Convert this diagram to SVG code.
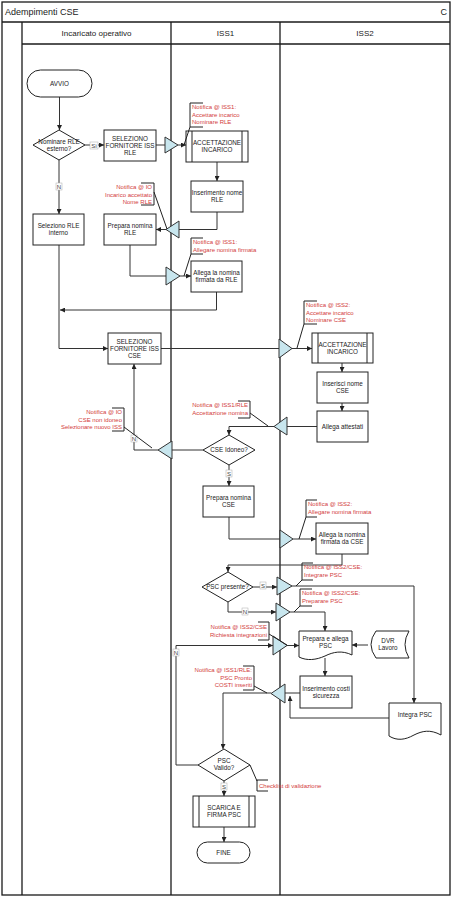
<svg xmlns="http://www.w3.org/2000/svg" width="452" height="897" viewBox="0 0 452 897">
<defs>
<style>
.fr{fill:none;stroke:#1a1a1a;stroke-width:1.3}
.box{fill:#fff;stroke:#222;stroke-width:1}
.tri{fill:#c8e6ee;stroke:#333;stroke-width:1}
.t{font-family:"Liberation Sans",Arial,sans-serif;font-size:6.3px;fill:#222;text-anchor:middle}
.h{font-family:"Liberation Sans",Arial,sans-serif;font-size:8px;fill:#222;text-anchor:middle}
.n{font-family:"Liberation Sans",Arial,sans-serif;font-size:6px;fill:#d23c3c}
.ne{font-family:"Liberation Sans",Arial,sans-serif;font-size:6px;fill:#d23c3c;text-anchor:end}
.c{fill:none;stroke:#333;stroke-width:1}
.br{fill:none;stroke:#222;stroke-width:1}
.lb{fill:#fff;stroke:#aaa;stroke-width:0.5}
.lt{font-family:"Liberation Sans",Arial,sans-serif;font-size:6px;fill:#444;text-anchor:middle}
</style>
<marker id="a" viewBox="0 0 6 6" refX="6" refY="3" markerWidth="5" markerHeight="5" orient="auto"><path d="M0,0 L6,3 L0,6 Z" fill="#222"/></marker>
</defs>
<rect width="452" height="897" fill="#fff"/>
<g id="frame">
<rect class="fr" x="2" y="2" width="448" height="893"/>
<line class="fr" x1="2" y1="22" x2="450" y2="22"/>
<line class="fr" x1="22" y1="44" x2="450" y2="44"/>
<line class="fr" x1="22" y1="22" x2="22" y2="895"/>
<line class="fr" x1="171" y1="22" x2="171" y2="895"/>
<line class="fr" x1="280" y1="22" x2="280" y2="895"/>
<text x="5" y="15" font-family="Liberation Sans,Arial,sans-serif" font-size="9" fill="#222">Adempimenti CSE</text>
<text x="447" y="15" font-family="Liberation Sans,Arial,sans-serif" font-size="9" fill="#222" text-anchor="end">C</text>
<text class="h" x="96.5" y="36">Incaricato operativo</text>
<text class="h" x="225.5" y="36">ISS1</text>
<text class="h" x="365" y="36">ISS2</text>
</g>
<g id="connectors">
<path class="c" d="M59.5,97 V130" marker-end="url(#a)"/>
<path class="c" d="M85,145 H104" marker-end="url(#a)"/>
<path class="c" d="M156,145 H165"/>
<path class="c" d="M178,145 H186" marker-end="url(#a)"/>
<path class="c" d="M217,162 V181" marker-end="url(#a)"/>
<path class="c" d="M217,212 V229.5 H179"/>
<path class="c" d="M166,229.5 H156" marker-end="url(#a)"/>
<path class="c" d="M59,160 V214" marker-end="url(#a)"/>
<path class="c" d="M130,245 V276 H166"/>
<path class="c" d="M180,276 H191" marker-end="url(#a)"/>
<path class="c" d="M216.5,292 V310 H60" marker-end="url(#a)"/>
<path class="c" d="M59,245 V348.5 H108" marker-end="url(#a)"/>
<path class="c" d="M161,348.5 H279"/>
<path class="c" d="M292,348.5 H312" marker-end="url(#a)"/>
<path class="c" d="M342,363 V372" marker-end="url(#a)"/>
<path class="c" d="M342,403 V411" marker-end="url(#a)"/>
<path class="c" d="M317,426.5 H287"/>
<path class="c" d="M274,426.5 H229 V435" marker-end="url(#a)"/>
<path class="c" d="M203,450 H172"/>
<path class="c" d="M158,450 H134 V364" marker-end="url(#a)"/>
<path class="c" d="M229,465 V486" marker-end="url(#a)"/>
<path class="c" d="M229,517 V539 H280"/>
<path class="c" d="M293,539 H316" marker-end="url(#a)"/>
<path class="c" d="M342,554 V565 H228 V572" marker-end="url(#a)"/>
<path class="c" d="M253,587 H277" marker-end="url(#a)"/>
<path class="c" d="M292,586 H414 V703" marker-end="url(#a)"/>
<path class="c" d="M228,602 V612 H276" marker-end="url(#a)"/>
<path class="c" d="M290,612 H325 V631" marker-end="url(#a)"/>
<path class="c" d="M368,645 H352" marker-end="url(#a)"/>
<path class="c" d="M287,645.5 H299" marker-end="url(#a)"/>
<path class="c" d="M325,658 V676" marker-end="url(#a)"/>
<path class="c" d="M300,693 H285"/>
<path class="c" d="M271,693 H223 V749" marker-end="url(#a)"/>
<path class="c" d="M389,718 H290 V696" marker-end="url(#a)"/>
<path class="c" d="M198,765 H176 V645.5 H273" marker-end="url(#a)"/>
<path class="c" d="M224,781 V796" marker-end="url(#a)"/>
<path class="c" d="M224,827 V842" marker-end="url(#a)"/>
<rect class="lb" x="90" y="142" width="8" height="7"/><text class="lt" x="94" y="147.5">Sì</text>
<rect class="lb" x="56" y="183" width="6" height="7"/><text class="lt" x="59" y="188.5">N</text>
<rect class="lb" x="131" y="435" width="6" height="7"/><text class="lt" x="134" y="440.5">N</text>
<rect class="lb" x="226" y="470" width="6" height="7"/><text class="lt" x="229" y="475.5">S</text>
<rect class="lb" x="260" y="582" width="6" height="7"/><text class="lt" x="263" y="587.5">S</text>
<rect class="lb" x="242" y="608" width="6" height="7"/><text class="lt" x="245" y="613.5">N</text>
<rect class="lb" x="173" y="649" width="6" height="7"/><text class="lt" x="176" y="654.5">N</text>
<rect class="lb" x="221" y="783" width="6" height="7"/><text class="lt" x="224" y="788.5">S</text>
</g>
<g id="avvio"><rect class="box" x="27" y="70" width="65" height="27" rx="13.5"/><text class="t" x="59.5" y="85.5">AVVIO</text></g>
<g id="d-nominare"><polygon class="box" points="59,130 85,145 59,160 33,145"/><text class="t" x="59" y="144">Nominare RLE</text><text class="t" x="59" y="151">esterno?</text></g>
<g id="sel-rle"><rect class="box" x="104" y="130" width="52" height="31"/><text class="t" x="130" y="140.5">SELEZIONO</text><text class="t" x="130" y="147.5">FORNITORE ISS</text><text class="t" x="130" y="154.5">RLE</text></g>
<g id="t1"><polygon class="tri" points="165,137 165,153 178,145"/></g>
<g id="acc1"><rect class="box" x="186" y="131" width="62" height="31"/><line class="br" x1="192" y1="131" x2="192" y2="162"/><line class="br" x1="242" y1="131" x2="242" y2="162"/><text class="t" x="217" y="145">ACCETTAZIONE</text><text class="t" x="217" y="152">INCARICO</text></g>
<g id="ins-rle"><rect class="box" x="191" y="181" width="52" height="31"/><text class="t" x="217" y="195">Inserimento nome</text><text class="t" x="217" y="202">RLE</text></g>
<g id="sel-int"><rect class="box" x="33" y="214" width="51" height="31"/><text class="t" x="58.5" y="228">Seleziono RLE</text><text class="t" x="58.5" y="235">interno</text></g>
<g id="prep-rle"><rect class="box" x="104" y="214" width="52" height="31"/><text class="t" x="130" y="228">Prepara nomina</text><text class="t" x="130" y="235">RLE</text></g>
<g id="t2"><polygon class="tri" points="179,221 179,238 166,229.5"/></g>
<g id="t3"><polygon class="tri" points="166,267 166,285 180,276"/></g>
<g id="all-rle"><rect class="box" x="191" y="261" width="51" height="31"/><text class="t" x="216.5" y="275">Allega la nomina</text><text class="t" x="216.5" y="282">firmata da RLE</text></g>
<g id="sel-cse"><rect class="box" x="108" y="333" width="53" height="31"/><text class="t" x="134.5" y="343.5">SELEZIONO</text><text class="t" x="134.5" y="350.5">FORNITORE ISS</text><text class="t" x="134.5" y="357.5">CSE</text></g>
<g id="t4"><polygon class="tri" points="279,339 279,358 292,348.5"/></g>
<g id="acc2"><rect class="box" x="312" y="333" width="61" height="30"/><line class="br" x1="318" y1="333" x2="318" y2="363"/><line class="br" x1="367" y1="333" x2="367" y2="363"/><text class="t" x="342.5" y="346.5">ACCETTAZIONE</text><text class="t" x="342.5" y="353.5">INCARICO</text></g>
<g id="ins-cse"><rect class="box" x="317" y="372" width="51" height="31"/><text class="t" x="342.5" y="386">Inserisci nome</text><text class="t" x="342.5" y="393">CSE</text></g>
<g id="attestati"><rect class="box" x="317" y="411" width="51" height="31"/><text class="t" x="342.5" y="428.5">Allega attestati</text></g>
<g id="t5"><polygon class="tri" points="287,417 287,435 274,426.5"/></g>
<g id="d-idoneo"><polygon class="box" points="229,435 255,450 229,465 203,450"/><text class="t" x="229" y="452">CSE Idoneo?</text></g>
<g id="t6"><polygon class="tri" points="172,441 172,459 158,450"/></g>
<g id="prep-cse"><rect class="box" x="203" y="486" width="51" height="31"/><text class="t" x="228.5" y="500">Prepara nomina</text><text class="t" x="228.5" y="507">CSE</text></g>
<g id="t7"><polygon class="tri" points="280,530 280,548 293,539"/></g>
<g id="all-cse"><rect class="box" x="316" y="523" width="52" height="31"/><text class="t" x="342" y="537">Allega la nomina</text><text class="t" x="342" y="544">firmata da CSE</text></g>
<g id="d-psc"><polygon class="box" points="228,572 253,587 228,602 202,587"/><text class="t" x="227.5" y="589">PSC presente?</text></g>
<g id="t8"><polygon class="tri" points="277,577 277,595 292,586"/></g>
<g id="t9"><polygon class="tri" points="276,603 276,621 290,612"/></g>
<g id="prep-psc"><path class="box" d="M299,631 H352 V655 C342,650 333,652 325,656 C316,660 307,661 299,657 Z"/><text class="t" x="325.5" y="641">Prepara e allega</text><text class="t" x="325.5" y="648">PSC</text></g>
<g id="dvr"><path class="box" d="M376,631 H409 Q401,644.5 409,658 H376 Q366,644.5 376,631 Z"/><text class="t" x="388" y="643">DVR</text><text class="t" x="388" y="650">Lavoro</text></g>
<g id="t10"><polygon class="tri" points="273,636 273,655 287,645.5"/></g>
<g id="costi"><rect class="box" x="300" y="676" width="52" height="32"/><text class="t" x="326" y="690.5">Inserimento costi</text><text class="t" x="326" y="697.5">sicurezza</text></g>
<g id="t11"><polygon class="tri" points="285,684 285,703 271,693.5"/></g>
<g id="integra"><path class="box" d="M389,703 H441 V735 C430,729 422,731 414,735 C405,740 397,741 389,736 Z"/><text class="t" x="415" y="717">Integra PSC</text></g>
<g id="d-valido"><polygon class="box" points="224,749 250,765 224,781 198,765"/><text class="t" x="224" y="763">PSC</text><text class="t" x="224" y="770">Valido?</text></g>
<g id="scarica"><rect class="box" x="193" y="796" width="62" height="31"/><line class="br" x1="199" y1="796" x2="199" y2="827"/><line class="br" x1="249" y1="796" x2="249" y2="827"/><text class="t" x="224" y="810">SCARICA E</text><text class="t" x="224" y="817">FIRMA PSC</text></g>
<g id="fine"><rect class="box" x="197" y="842" width="53" height="21" rx="10.5"/><text class="t" x="223.5" y="854.5">FINE</text></g>
<g id="annotations">
<path class="br" d="M203,103 H190 V127 H203 M190,127 L184,145"/>
<text class="n" x="192" y="109">Notifica @ ISS1:</text><text class="n" x="192" y="116.5">Accettare incarico</text><text class="n" x="192" y="124">Nominare RLE</text>
<path class="br" d="M141,183 H154 V205 H141 M154,192 L167,229"/>
<text class="ne" x="152" y="189">Notifica @ IO</text><text class="ne" x="152" y="196.5">Incarico accettato</text><text class="ne" x="152" y="204">Nome RLE</text>
<path class="br" d="M203,238 H191 V254 H203 M191,254 L184,276"/>
<text class="n" x="193" y="244">Notifica @ ISS1:</text><text class="n" x="193" y="251.5">Allegare nomina firmata</text>
<path class="br" d="M317,301 H304 V324 H317 M304,324 L297,348"/>
<text class="n" x="306" y="307">Notifica @ ISS2:</text><text class="n" x="306" y="314.5">Accettare incarico</text><text class="n" x="306" y="322">Nominare CSE</text>
<path class="br" d="M238,401 H250 V418 H238 M250,413 L268,426"/>
<text class="ne" x="248" y="407">Notifica @ ISS1/RLE</text><text class="ne" x="248" y="414.5">Accettazione nomina</text>
<path class="br" d="M112,408 H124 V431 H112 M124,427 L152,448"/>
<text class="ne" x="122" y="414">Notifica @ IO</text><text class="ne" x="122" y="421.5">CSE non idoneo</text><text class="ne" x="122" y="429">Selezionare nuovo ISS</text>
<path class="br" d="M317,500 H306 V517 H317 M306,517 L299,539"/>
<text class="n" x="308" y="506">Notifica @ ISS2:</text><text class="n" x="308" y="513.5">Allegare nomina firmata</text>
<path class="br" d="M313,563 H302 V580 H313 M302,580 L296,586"/>
<text class="n" x="304" y="569">Notifica @ ISS2/CSE:</text><text class="n" x="304" y="576.5">Integrare PSC</text>
<path class="br" d="M312,589 H300 V606 H312 M300,606 L294,612"/>
<text class="n" x="302" y="595">Notifica @ ISS2/CSE:</text><text class="n" x="302" y="602.5">Preparare PSC</text>
<path class="br" d="M258,622 H269 V640 H258 M269,634 L287,645"/>
<text class="ne" x="267" y="629">Notifica @ ISS2/CSE</text><text class="ne" x="267" y="636.5">Richiesta integrazioni</text>
<path class="br" d="M243,666 H254 V690 H243 M254,686 L267,693"/>
<text class="ne" x="252" y="672">Notifica @ ISS1/RLE:</text><text class="ne" x="252" y="679.5">PSC Pronto</text><text class="ne" x="252" y="687">COSTI inseriti</text>
<path class="br" d="M268,780 H257 V791 H268 M257,781 L250,765"/>
<text class="n" x="259" y="787.5">Checklist di validazione</text>
</g>
</svg>
